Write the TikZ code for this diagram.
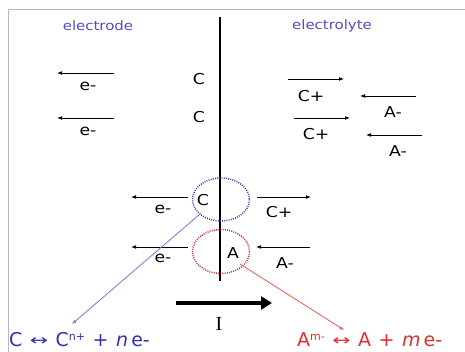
\documentclass[tikz,border=0pt]{standalone}
\usepackage{fontspec}
\setmainfont{DejaVu Sans}
\newfontfamily\widefont[FakeStretch=1.15]{DejaVu Sans}
\newfontfamily\serifI{Liberation Serif}
\usetikzlibrary{arrows.meta}
\definecolor{lblue}{RGB}{80,80,190}
\definecolor{dblue}{RGB}{50,50,170}
\definecolor{lnblue}{RGB}{120,120,215}
\definecolor{rred}{RGB}{225,45,45}
\definecolor{lnred}{RGB}{225,95,80}
\tikzset{
  flow/.style={line width=0.9pt,-{Latex[length=5pt,width=3.8pt]}},
  lbl/.style={inner sep=0pt,font=\widefont\fontsize{15}{17}\selectfont},
  head/.style={inner sep=0pt,text=lblue,font=\widefont\fontsize{13}{15}\selectfont},
  eqn/.style={inner sep=0pt,font=\fontsize{19}{21}\selectfont,anchor=base west},
  zone/.style={line width=1.5pt,dash pattern=on 0.9pt off 1.3pt},
}
\newcommand{\lrarr}{\raisebox{0.5pt}{\scalebox{1.45}[1]{\fontsize{15}{16}\selectfont↔}}}
\newcommand{\gap}{\hspace{7.5pt}}
\begin{document}
\begin{tikzpicture}[x=1pt,y=-1pt]
\useasboundingbox (0,0) rectangle (465,352);
\fill[white] (0,0) rectangle (465,352);
% frame
\draw[gray!55,line width=0.8pt] (8,352) -- (8,9) -- (465,9);
% headings
\node[head] (hd1) at (98,26) {electrode};
\node[head] (hd2) at (332,26) {electrolyte};
% interface
\coordinate (vt) at (220,17);
\coordinate (vb) at (220,281);
\draw[line width=2.6pt] (vt) -- (vb);
% top left electrons
\coordinate (a1s) at (114,73); \coordinate (a1e) at (57,73);
\draw[flow] (a1s) -- (a1e);
\node[lbl] (l1) at (88,86) {e-};
\coordinate (a2s) at (114,118); \coordinate (a2e) at (57,118);
\draw[flow] (a2s) -- (a2e);
\node[lbl] (l2) at (88,131) {e-};
\node[lbl] (c1) at (199,79) {C};
\node[lbl] (c2) at (199,117) {C};
% top right ions
\coordinate (a3s) at (288,79); \coordinate (a3e) at (344,79);
\draw[flow] (a3s) -- (a3e);
\node[lbl] (l3) at (311,96) {C+};
\coordinate (a4s) at (416,96); \coordinate (a4e) at (360,96);
\draw[flow] (a4s) -- (a4e);
\node[lbl] (l4) at (393,112) {A-};
\coordinate (a5s) at (294,118); \coordinate (a5e) at (350,118);
\draw[flow] (a5s) -- (a5e);
\node[lbl] (l5) at (316,134) {C+};
\coordinate (a6s) at (422,135); \coordinate (a6e) at (366,135);
\draw[flow] (a6s) -- (a6e);
\node[lbl] (l6) at (398,151) {A-};
% reaction zones
\draw[zone,dblue] (221,199.5) ellipse [x radius=28.5,y radius=21.5];
\draw[zone,rred!85!black] (221,251.5) ellipse [x radius=28.5,y radius=22];
\coordinate (ez1) at (200,214);
\coordinate (ez2) at (240,264);
\node[lbl] (c3) at (203,200) {C};
\node[lbl] (a3) at (233,253) {A};
% lower arrows
\coordinate (b1s) at (188,197); \coordinate (b1e) at (131,197);
\draw[flow] (b1s) -- (b1e);
\node[lbl] (l7) at (163,209) {e-};
\coordinate (b2s) at (257,197); \coordinate (b2e) at (311,197);
\draw[flow] (b2s) -- (b2e);
\node[lbl] (l8) at (279,212) {C+};
\coordinate (b3s) at (188,247); \coordinate (b3e) at (131,247);
\draw[flow] (b3s) -- (b3e);
\node[lbl] (l9) at (163,258) {e-};
\coordinate (b4s) at (310,247); \coordinate (b4e) at (256,247);
\draw[flow] (b4s) -- (b4e);
\node[lbl] (l10) at (285,263) {A-};
% current
\coordinate (is) at (176,303); \coordinate (ie) at (272,303);
\draw[line width=4.5pt,-{Triangle[length=11pt,width=13pt]}] (is) -- (ie);
\node[inner sep=0pt,font=\serifI\fontsize{20}{22}\selectfont] (cur) at (219,324) {I};
% reaction equations
\coordinate (bt) at (72,324);
\coordinate (rt) at (344,330);
\draw[lnblue,line width=0.8pt,-{Latex[length=4.5pt,width=3.5pt]}] (ez1) -- (bt);
\draw[lnred,line width=0.8pt,-{Latex[length=4.5pt,width=3.5pt]}] (ez2) -- (rt);
\node[eqn,text=dblue] (eq1) at (9,346) {C\gap\lrarr\gap C\raisebox{6pt}{\fontsize{11}{12}\selectfont n+}\gap+\gap\textit{n}\,e-};
\node[eqn,text=rred] (eq2) at (297,346) {A\raisebox{6pt}{\fontsize{11}{12}\selectfont m-}\gap\lrarr\gap A\gap+\gap\textit{m}\,e-};
\end{tikzpicture}
\end{document}
